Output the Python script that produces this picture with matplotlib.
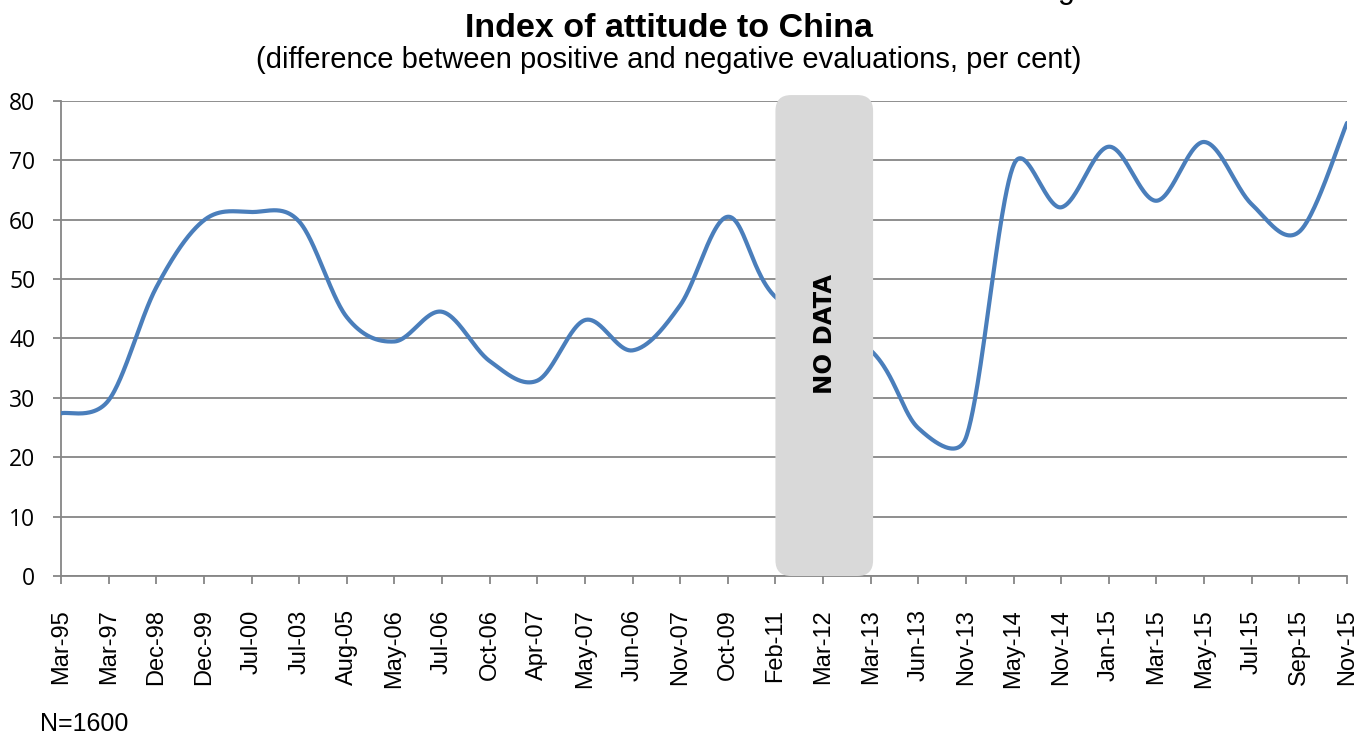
import matplotlib
matplotlib.use("Agg")
import matplotlib.pyplot as plt
import numpy as np
from matplotlib.patches import FancyBboxPatch

# -----------------------------
# Data
# -----------------------------
labels = ["Mar-95", "Mar-97", "Dec-98", "Dec-99", "Jul-00", "Jul-03", "Aug-05",
          "May-06", "Jul-06", "Oct-06", "Apr-07", "May-07", "Jun-06", "Nov-07",
          "Oct-09", "Feb-11", "Mar-12", "Mar-13", "Jun-13", "Nov-13", "May-14",
          "Nov-14", "Jan-15", "Mar-15", "May-15", "Jul-15", "Sep-15", "Nov-15"]
index_values = [27.4, 29.6, 48.6, 59.9, 61.3, 59.7, 43.6,
                39.5, 44.5, 36.2, 32.9, 43.1, 38.0, 45.6,
                60.5, 47.0, np.nan, 38.0, 24.9, 23.3, 69.2,
                62.1, 72.3, 63.2, 73.1, 62.6, 58.0, 76.3]
no_data_label = "Mar-12"
y_ticks = [0, 10, 20, 30, 40, 50, 60, 70, 80]

# pixel sizes of one unit on each axis (for screen-space smoothing)
PX_X = (1347 - 61) / (len(labels) - 1)
PX_Y = (576 - 101) / 80


# -----------------------------
# Excel-like smoothed line: Catmull-Rom Bezier, control arms
# limited to half of the neighbouring chord
# -----------------------------
def smooth_line(x, y, n=50, clamp=0.5):
    P = np.column_stack([np.asarray(x) * PX_X, np.asarray(y) * PX_Y])
    ext = np.vstack([P[0], P, P[-1]])
    t = np.linspace(0, 1, n)[:, None]
    out = []
    for i in range(1, len(ext) - 2):
        p0, p1, p2, p3 = ext[i - 1], ext[i], ext[i + 1], ext[i + 2]
        chord = np.linalg.norm(p2 - p1)
        a1 = (p2 - p0) / 6
        a2 = (p3 - p1) / 6
        for a in (a1, a2):
            ln = np.linalg.norm(a)
            if ln > clamp * chord:
                a *= clamp * chord / ln
        c1 = p1 + a1
        c2 = p2 - a2
        b = ((1 - t) ** 3 * p1 + 3 * (1 - t) ** 2 * t * c1
             + 3 * (1 - t) * t ** 2 * c2 + t ** 3 * p2)
        out.append(b)
    out = np.vstack(out)
    return out[:, 0] / PX_X, out[:, 1] / PX_Y


x = np.arange(len(labels))
y = np.array(index_values, dtype=float)
ok = ~np.isnan(y)
xs, ys = smooth_line(x[ok], y[ok])

fig = plt.figure(figsize=(13.6, 7.35), dpi=100)
ax = fig.add_axes([61 / 1360, 1 - 576 / 735, (1347 - 61) / 1360, (576 - 101) / 735])

grid_col = "#868686"
ax.plot(xs, ys, color="#4a7ebb", lw=3.0, solid_capstyle="round", zorder=3)

ax.set_xlim(0, len(labels) - 1)
ax.set_ylim(0, 80)
ax.set_yticks(y_ticks)
ax.set_xticks(x)
ax.set_xticklabels(labels, rotation=90, fontsize=17, family="Liberation Sans")
ax.set_yticklabels([str(v) for v in y_ticks], fontsize=16.5, family="Open Sans")
ax.yaxis.grid(True, color=grid_col, lw=1.3)
ax.set_axisbelow(True)
for s in ["top", "right"]:
    ax.spines[s].set_visible(False)
for s in ["left", "bottom"]:
    ax.spines[s].set_color(grid_col)
    ax.spines[s].set_linewidth(1.3)
ax.tick_params(axis="both", color=grid_col, width=1.3, length=6, direction="out")
ax.tick_params(axis="y", pad=12.5)
ax.tick_params(axis="x", pad=18)

# "NO DATA" box over the gap
i_nd = labels.index(no_data_label)
box = FancyBboxPatch((i_nd - 1, 0), 2.05, 81,
                     boxstyle="round,pad=0,rounding_size=0.33",
                     mutation_aspect=PX_X / PX_Y,
                     facecolor="#d9d9d9", edgecolor="none",
                     zorder=4, clip_on=False)
ax.add_patch(box)
ax.text(i_nd + 0.04, 40.8, "NO DATA", rotation=90, ha="center", va="center",
        fontsize=17.5, fontweight="bold", family="DejaVu Sans", zorder=5)

# titles and notes
fig.text(0.492, 1 - 37 / 735, "Index of attitude to China", ha="center",
         va="baseline", fontsize=24.5, fontweight="bold", family="Liberation Sans")
fig.text(0.492, 1 - 68 / 735,
         "(difference between positive and negative evaluations, per cent)",
         ha="center", va="baseline", fontsize=21, family="Liberation Sans")
fig.text(40 / 1360, 1 - 731 / 735, "N=1600", ha="left", va="baseline",
         fontsize=18, family="Liberation Sans")
fig.text(1058 / 1360, 1.003, "g", ha="left", va="baseline",
         fontsize=22, family="Liberation Sans")

fig.savefig("out.png", dpi=100)
